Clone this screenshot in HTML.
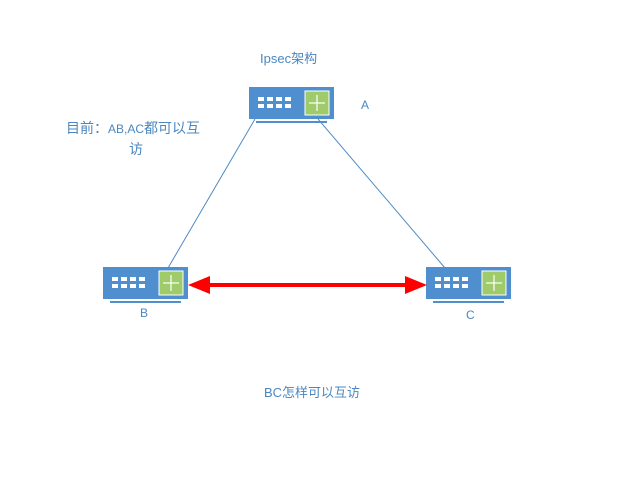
<!DOCTYPE html>
<html><head><meta charset="utf-8"><style>
body{margin:0;width:641px;height:493px;background:#fff;position:relative;overflow:hidden;font-family:"Liberation Sans","Noto Sans CJK SC",sans-serif;color:#4a87bf}
.t{position:absolute;white-space:nowrap}
</style></head><body>
<svg width="641" height="493" style="position:absolute;left:0;top:0">
<defs>
<g id="dev">
<rect x="0" y="0" width="85" height="32" fill="#4f8fd0"/>
<rect x="7" y="34" width="71" height="2" fill="#4f8fd0"/>
<g fill="#fff">
<rect x="9" y="10" width="6" height="4"/><rect x="18" y="10" width="6" height="4"/><rect x="27" y="10" width="6" height="4"/><rect x="36" y="10" width="6" height="4"/>
<rect x="9" y="17" width="6" height="4"/><rect x="18" y="17" width="6" height="4"/><rect x="27" y="17" width="6" height="4"/><rect x="36" y="17" width="6" height="4"/>
</g>
<rect x="56" y="4" width="24" height="24" fill="#9fcb6a" stroke="#fff" stroke-width="1"/>
<g stroke="#fff" stroke-width="1.2"><line x1="68" y1="8" x2="68" y2="24"/><line x1="60" y1="16" x2="76" y2="16"/></g>
</g>
</defs>
<line x1="255" y1="119" x2="168" y2="268" stroke="#4f8bc4" stroke-width="1"/>
<line x1="318" y1="119" x2="445" y2="268" stroke="#4f8bc4" stroke-width="1"/>
<use href="#dev" x="249" y="87"/>
<use href="#dev" x="103" y="267"/>
<use href="#dev" x="426" y="267"/>
<line x1="205" y1="285" x2="410" y2="285" stroke="#f00" stroke-width="4"/>
<polygon points="188,285 210,276 210,294" fill="#f00"/>
<polygon points="427,285 405,276 405,294" fill="#f00"/>
</svg>
<div class="t" style="left:260px;top:48px;font-size:13px">Ipsec架构</div>
<div class="t" style="left:361px;top:98px;font-size:12px">A</div>
<div class="t" style="left:66px;top:118px;font-size:14px">目前：<span style="font-size:12px">AB,AC</span>都可以互</div>
<div class="t" style="left:129px;top:139px;font-size:14px">访</div>
<div class="t" style="left:140px;top:306px;font-size:12px">B</div>
<div class="t" style="left:466px;top:308px;font-size:12px">C</div>
<div class="t" style="left:264px;top:382px;font-size:13px">BC怎样可以互访</div>
</body></html>
